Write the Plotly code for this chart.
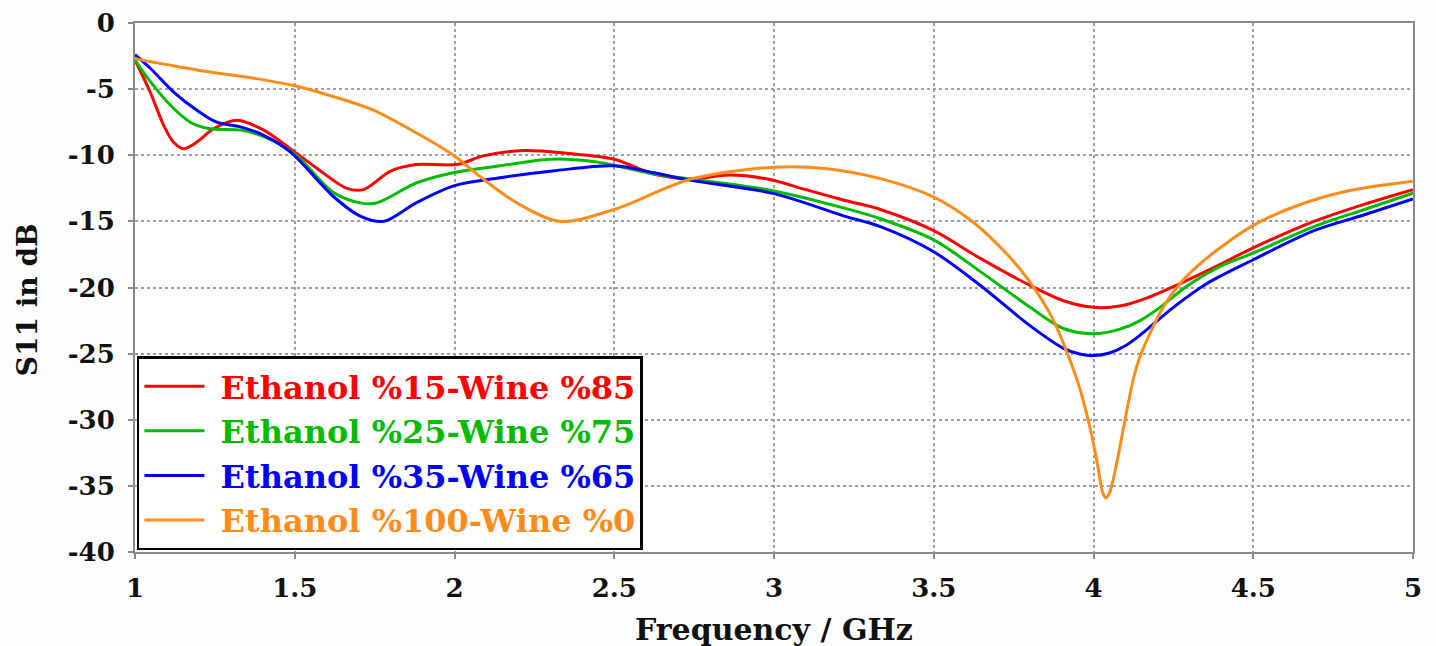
import plotly.graph_objects as go

FONT = "DejaVu Serif"

names = ["Ethanol %15-Wine %85", "Ethanol %25-Wine %75",
         "Ethanol %35-Wine %65", "Ethanol %100-Wine %0"]
colors = ["#ff0000", "#00bb00", "#0000ff", "#ff8c1a"]
x_title = "Frequency / GHz"
y_title = "S11 in dB"

red_x = [1.0, 1.047, 1.089, 1.12, 1.152, 1.194, 1.246, 1.319, 1.403, 1.486, 1.57, 1.663, 1.715, 1.8,
         1.88, 2.007, 2.09, 2.216, 2.35, 2.5, 2.62, 2.74, 2.86, 2.98, 3.1, 3.22, 3.333, 3.5, 3.646,
         3.802, 3.906, 4.0, 4.083, 4.166, 4.271, 4.376, 4.5, 4.69, 4.848, 5.0]
red_y = [-2.8, -5.2, -7.7, -9.0, -9.5, -9.0, -8.0, -7.35, -8.1, -9.5, -11.0, -12.5, -12.6, -11.2,
         -10.7, -10.7, -10.05, -9.65, -9.85, -10.3, -11.4, -11.8, -11.5, -11.8, -12.6, -13.4, -14.1, -15.7,
         -17.8, -19.85, -21.0, -21.5, -21.4, -20.8, -19.7, -18.5, -17.0, -15.0, -13.7, -12.6]

green_x = [1.0, 1.047, 1.11, 1.173, 1.235, 1.33, 1.403, 1.5, 1.62, 1.705, 1.757, 1.88, 2.0, 2.143,
           2.3, 2.44, 2.62, 2.74, 3.0, 3.22, 3.333, 3.5, 3.646, 3.802, 3.906, 4.0, 4.083, 4.146,
           4.208, 4.292, 4.397, 4.5, 4.69, 4.848, 5.0]
green_y = [-2.8, -4.4, -6.2, -7.5, -8.0, -8.1, -8.6, -9.9, -12.8, -13.6, -13.6, -12.1, -11.3, -10.8,
           -10.3, -10.5, -11.4, -11.8, -12.7, -14.0, -14.8, -16.4, -18.8, -21.5, -23.1, -23.5, -23.15, -22.5,
           -21.5, -19.9, -18.4, -17.4, -15.4, -14.1, -12.86]

blue_x = [1.0, 1.047, 1.12, 1.194, 1.256, 1.33, 1.403, 1.486, 1.62, 1.705, 1.778, 1.88, 2.0, 2.143,
          2.32, 2.5, 2.62, 2.74, 3.0, 3.22, 3.333, 3.5, 3.646, 3.802, 3.906, 3.96, 4.0, 4.05, 4.1,
          4.146, 4.25, 4.355, 4.5, 4.69, 4.848, 5.0]
blue_y = [-2.4, -3.4, -5.2, -6.6, -7.5, -7.85, -8.5, -9.75, -13.1, -14.6, -15.0, -13.6, -12.3, -11.7,
          -11.15, -10.8, -11.3, -11.9, -12.9, -14.6, -15.4, -17.3, -19.85, -22.9, -24.6, -25.05, -25.15, -24.95, -24.4,
          -23.6, -21.5, -19.7, -17.9, -15.7, -14.5, -13.3]

orange_x = [1.0, 1.194, 1.403, 1.5, 1.612, 1.737, 1.88, 2.0, 2.09, 2.195, 2.33, 2.5, 2.74, 3.0, 3.16,
            3.333, 3.5, 3.615, 3.698, 3.77, 3.823, 3.875, 3.917, 3.958, 3.99, 4.012, 4.03, 4.04, 4.052,
            4.07, 4.094, 4.125, 4.146, 4.218, 4.271, 4.334, 4.407, 4.5, 4.638, 4.795, 5.0]
orange_y = [-2.7, -3.55, -4.3, -4.75, -5.5, -6.5, -8.3, -10.05, -11.8, -13.6, -15.0, -14.1, -11.8, -10.9, -11.0,
            -11.77, -13.16, -14.9, -16.7, -18.6, -20.35, -22.5, -24.9, -27.7, -30.7, -33.3, -35.6, -35.9, -35.4,
            -33.6, -30.6, -26.9, -25.2, -21.5, -19.7, -18.2, -16.8, -15.3, -13.8, -12.7, -11.96]

series = [(red_x, red_y), (green_x, green_y), (blue_x, blue_y), (orange_x, orange_y)]

x_ticks = [1, 1.5, 2, 2.5, 3, 3.5, 4, 4.5, 5]
y_ticks = [0, -5, -10, -15, -20, -25, -30, -35, -40]

fig = go.Figure()
for (xs, ys), name, col in zip(series, names, colors):
    fig.add_trace(go.Scatter(
        x=xs, y=ys, mode="lines", name=f'<span style="color:{col}">\u00a0{name}</span>',
        legendgroup=name,
        line=dict(color=col, width=3, shape="spline", smoothing=0.9),
    ))

axis_common = dict(
    showline=True, linecolor="#8a8a8a", linewidth=2, mirror=True,
    showgrid=True, gridcolor="#a0a0a0", gridwidth=1.5, griddash="dot",
    ticks="outside", ticklen=5, tickcolor="#8a8a8a", tickwidth=1.5,
    tickfont=dict(family=FONT, size=26, color="#111", weight="bold"),
    zeroline=False, automargin=False,
)

fig.update_layout(
    width=1436, height=646,
    margin=dict(l=135, r=23, t=23, b=94),
    paper_bgcolor="#fdfdfd", plot_bgcolor="#ffffff",
    xaxis=dict(range=[1, 5], tickvals=x_ticks, ticktext=[str(v) for v in x_ticks],
               ticklabelstandoff=7, **axis_common),
    yaxis=dict(range=[-40, 0], tickvals=y_ticks, ticktext=[str(v) for v in y_ticks],
               ticklabelstandoff=8, **axis_common),
    legend=dict(x=0.0015, y=0.003, xanchor="left", yanchor="bottom",
                bgcolor="#ffffff", bordercolor="#000000", borderwidth=2.5,
                font=dict(family=FONT, size=32, weight="bold"),
                itemwidth=60, tracegroupgap=8, traceorder="normal"),
    showlegend=True,
    annotations=[
        dict(text=x_title, xref="paper", yref="paper", x=0.5, y=-0.147,
             xanchor="center", yanchor="middle", showarrow=False,
             font=dict(family=FONT, size=30, color="#111", weight="bold")),
        dict(text=y_title, xref="paper", yref="paper", x=-0.0845, y=0.476,
             xanchor="center", yanchor="middle", showarrow=False, textangle=-90,
             font=dict(family=FONT, size=28, color="#111", weight="bold")),
    ],
)

# remove the browser's default 8px body margin so the figure sits at the page origin
fig.write_html("out.html", config={"displayModeBar": False},
               post_script="document.body.style.margin='0';")
